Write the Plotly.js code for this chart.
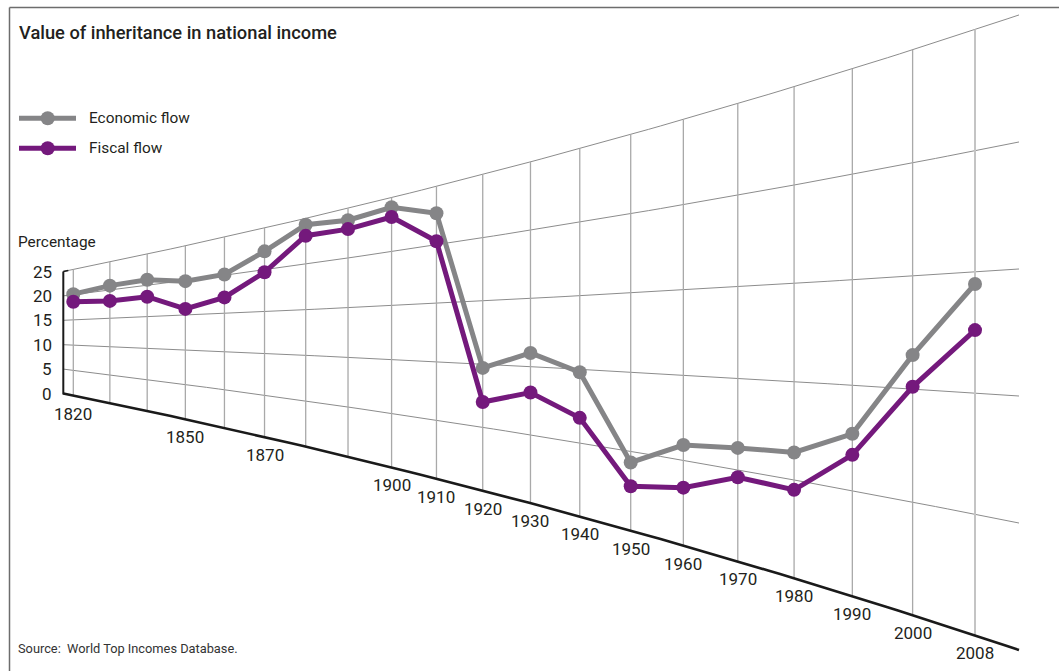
<!DOCTYPE html>
<html>
<head>
<meta charset="utf-8">
<script src="https://cdn.plot.ly/plotly-3.0.1.min.js"></script>
<style>html,body{margin:0;padding:0;background:#fff;}#chart{width:1059px;height:671px;}</style>
</head>
<body>
<div id="chart"></div>
<script>
// ---- data ----
const years = ['1820','1830','1840','1850','1860','1870','1880','1890','1900','1910','1920','1930','1940','1950','1960','1970','1980','1990','2000','2008'];
const economicFlow = [20.1, 20.8, 20.9, 19.9, 20.1, 22.2, 24.3, 23.8, 24.1, 22.7, 9.7, 11.0, 9.8, 4.3, 5.9, 6.2, 6.4, 7.7, 11.5, 14.5];
const fiscalFlow   = [18.6, 18.1, 18.2, 15.9, 17.1, 19.7, 23.1, 22.9, 23.2, 20.3, 7.0, 8.1, 6.7, 2.8, 3.4, 4.6, 4.5, 6.7, 10.1, 12.6];
const yTicks = [0, 5, 10, 15, 20, 25];
const labeledYears = ['1820','1850','1870','1900','1910','1920','1930','1940','1950','1960','1970','1980','1990','2000','2008'];
const seriesNames = ['Economic flow', 'Fiscal flow'];
const seriesColors = ['#858587', '#74197c'];

// ---- warped (perspective-like) projection of the chart plane ----
const FONT = 'Roboto, Liberation Sans, sans-serif';
const X_LEFT = 63.3, X_RIGHT = 1019;
function projX(i) { return 73.3 + 36.21 * i + 0.3414 * i * i + 0.01319 * i * i * i; }
const vMin = yTicks[0], vMax = yTicks[yTicks.length - 1], vMid = (vMin + vMax) / 2;
function halfH(x) { const d = x - X_LEFT; return 61 + 0.2025 * d + 6.9e-5 * d * d; }
function projY(x, v) { return 332.5 + halfH(x) * (vMid - v) / vMid; }

const traces = [];
const N = 80;
// horizontal (fanning) grid lines
yTicks.forEach(v => {
  if (v === vMin) return;
  const xs = [], ys = [];
  for (let k = 0; k <= N; k++) { const x = X_LEFT + (X_RIGHT - X_LEFT) * k / N; xs.push(x); ys.push(projY(x, v)); }
  traces.push({x: xs, y: ys, mode: 'lines', line: {color: '#8c8c8c', width: 1}, hoverinfo: 'skip', showlegend: false});
});
// vertical grid lines at each category
years.forEach((yr, i) => {
  const x = projX(i);
  const last = i === years.length - 1;
  traces.push({x: [x, x], y: [projY(x, vMin), projY(x, vMax)], mode: 'lines',
    line: {color: last ? '#c4c4c4' : '#a9a9a9', width: last ? 2 : 1.3}, hoverinfo: 'skip', showlegend: false});
});
// baseline (value 0)
{
  const xs = [], ys = [];
  for (let k = 0; k <= N; k++) { const x = X_LEFT + (X_RIGHT - X_LEFT) * k / N; xs.push(x); ys.push(projY(x, vMin)); }
  traces.push({x: xs, y: ys, mode: 'lines', line: {color: '#1a1a1a', width: 2.6}, hoverinfo: 'skip', showlegend: false});
}
// left axis
traces.push({x: [X_LEFT, X_LEFT], y: [projY(X_LEFT, vMax), projY(X_LEFT, vMin) + 1], mode: 'lines',
  line: {color: '#1a1a1a', width: 2}, hoverinfo: 'skip', showlegend: false});
traces.push({x: [X_LEFT, X_LEFT + 5], y: [projY(X_LEFT, vMax), projY(X_LEFT + 5, vMax)], mode: 'lines',
  line: {color: '#1a1a1a', width: 1.5}, hoverinfo: 'skip', showlegend: false});

// data series
[economicFlow, fiscalFlow].forEach((vals, s) => {
  const xs = vals.map((v, i) => projX(i));
  const ys = vals.map((v, i) => projY(projX(i), v));
  traces.push({x: xs, y: ys, mode: 'lines+markers', name: seriesNames[s],
    line: {color: seriesColors[s], width: 5}, marker: {color: seriesColors[s], size: 14, line: {width: 0}},
    hoverinfo: 'skip', showlegend: false});
});

// custom legend glyphs
const legendY = [118.3, 148.3];
seriesNames.forEach((n, s) => {
  traces.push({x: [19, 76], y: [legendY[s], legendY[s]], mode: 'lines',
    line: {color: seriesColors[s], width: 5}, hoverinfo: 'skip', showlegend: false});
  traces.push({x: [47.7], y: [legendY[s]], mode: 'markers',
    marker: {color: seriesColors[s], size: 14, line: {width: 0}}, hoverinfo: 'skip', showlegend: false});
});

const annotations = [];
annotations.push({x: 17, y: 32, xref: 'x', yref: 'y', xanchor: 'left', yanchor: 'middle', showarrow: false,
  text: 'Value of inheritance in national income', font: {family: FONT, size: 18.3, weight: 500, color: '#231f20'}});
seriesNames.forEach((n, s) => {
  annotations.push({x: 87, y: legendY[s], xref: 'x', yref: 'y', xanchor: 'left', yanchor: 'middle', showarrow: false,
    text: n, font: {family: FONT, size: 15.4, color: '#231f20'}});
});
annotations.push({x: 16, y: 242, xref: 'x', yref: 'y', xanchor: 'left', yanchor: 'middle', showarrow: false,
  text: 'Percentage', font: {family: FONT, size: 15.4, color: '#231f20'}});
yTicks.forEach(v => {
  annotations.push({x: 54, y: projY(X_LEFT, v), xref: 'x', yref: 'y', xanchor: 'right', yanchor: 'middle', showarrow: false,
    text: String(v), font: {family: FONT, size: 17, color: '#231f20'}});
});
years.forEach((yr, i) => {
  if (labeledYears.indexOf(yr) < 0) return;
  const x = projX(i);
  annotations.push({x: x, y: projY(x, vMin) + 18, xref: 'x', yref: 'y', xanchor: 'center', yanchor: 'middle', showarrow: false,
    text: yr, font: {family: FONT, size: 17, color: '#231f20'}});
});
annotations.push({x: 16, y: 648, xref: 'x', yref: 'y', xanchor: 'left', yanchor: 'middle', showarrow: false,
  text: 'Source:  World Top Incomes Database.', font: {family: FONT, size: 12.8, color: '#333333'}});

const layout = {
  width: 1059, height: 671,
  margin: {l: 0, r: 0, t: 0, b: 0, pad: 0},
  paper_bgcolor: '#ffffff', plot_bgcolor: '#ffffff',
  xaxis: {range: [0, 1059], visible: false, fixedrange: true},
  yaxis: {range: [671, 0], visible: false, fixedrange: true},
  showlegend: false,
  annotations: annotations,
  shapes: [
    {type: 'line', xref: 'x', yref: 'y', x0: 9.5, y0: 7.5, x1: 1070, y1: 7.5, line: {color: '#6d6d6d', width: 1.5}},
    {type: 'line', xref: 'x', yref: 'y', x0: 9.5, y0: 7.5, x1: 9.5, y1: 680, line: {color: '#6d6d6d', width: 1.5}}
  ]
};
Plotly.newPlot('chart', traces, layout, {staticPlot: true, displayModeBar: false});
</script>
</body>
</html>
